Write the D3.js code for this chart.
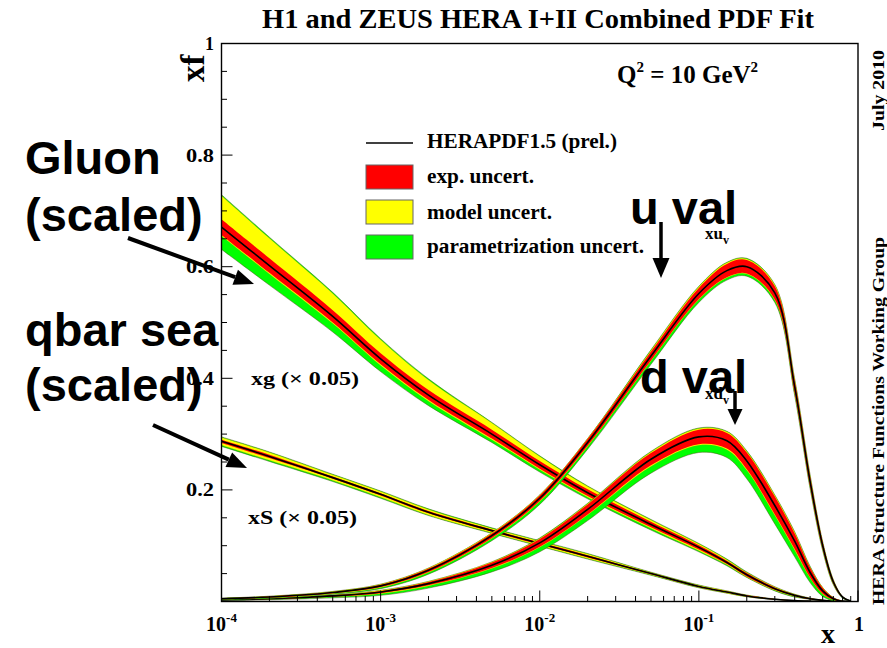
<!DOCTYPE html>
<html><head><meta charset="utf-8">
<script src="https://cdn.jsdelivr.net/npm/d3@7"></script>
<style>body{margin:0;background:#fff}</style></head>
<body><svg id="c" width="887" height="648"></svg>
<script>
// ---------- data (x, and xf values) ----------
const xGrid = [1e-4, 2e-4, 5e-4, 1e-3, 2e-3, 5e-3, 0.01, 0.02, 0.05, 0.1, 0.15, 0.2, 0.3, 0.4, 0.5, 0.6, 0.7, 0.8, 0.9];

// gluon xg (x 0.05)
const gluonC    = [0.671, 0.602, 0.511, 0.435, 0.37, 0.30, 0.245, 0.195, 0.138, 0.097, 0.07, 0.048, 0.023, 0.011, 0.005, 0.002, 0.0006, 0.0001, 0];
const gluonExp  = [0.014, 0.013, 0.011, 0.010, 0.009, 0.008, 0.007, 0.006, 0.005, 0.004, 0.003, 0.003, 0.002, 0.001, 0.001, 0.0005, 0, 0, 0];
const gluonModUp= [0.042, 0.036, 0.030, 0.024, 0.018, 0.012, 0.008, 0.005, 0.003, 0.002, 0.002, 0.001, 0.001, 0.001, 0, 0, 0, 0, 0];
const gluonModDn= [0.002, 0.002, 0.002, 0.002, 0.002, 0.002, 0.002, 0.002, 0.002, 0.002, 0.001, 0.001, 0.001, 0.001, 0, 0, 0, 0, 0];
const gluonParUp= [0.002, 0.002, 0.002, 0.002, 0.002, 0.001, 0.001, 0.001, 0.001, 0.001, 0.001, 0.001, 0.0005, 0, 0, 0, 0, 0, 0];
const gluonParDn= [0.024, 0.020, 0.015, 0.011, 0.008, 0.005, 0.004, 0.003, 0.003, 0.002, 0.002, 0.001, 0.001, 0.001, 0, 0, 0, 0, 0];

// sea xS (x 0.05)
const seaC    = [0.287, 0.26, 0.222, 0.192, 0.16, 0.127, 0.104, 0.081, 0.05, 0.027, 0.017, 0.01, 0.004, 0.0015, 0.0005, 0, 0, 0, 0];
const seaExp  = [0.003, 0.003, 0.002, 0.002, 0.002, 0.002, 0.002, 0.002, 0.001, 0.001, 0.001, 0.001, 0.0005, 0, 0, 0, 0, 0, 0];
const seaModUp= [0.004, 0.004, 0.003, 0.003, 0.003, 0.002, 0.002, 0.002, 0.001, 0.001, 0.001, 0.0005, 0, 0, 0, 0, 0, 0, 0];
const seaModDn= [0.004, 0.004, 0.003, 0.003, 0.003, 0.002, 0.002, 0.002, 0.001, 0.001, 0.001, 0.0005, 0, 0, 0, 0, 0, 0, 0];
const seaParUp= [0.001, 0.001, 0.001, 0.001, 0.001, 0.001, 0.001, 0.001, 0.0005, 0.0005, 0, 0, 0, 0, 0, 0, 0, 0, 0];
const seaParDn= [0.002, 0.002, 0.002, 0.002, 0.001, 0.001, 0.001, 0.001, 0.001, 0.0005, 0, 0, 0, 0, 0, 0, 0, 0, 0];

// u valence xu_v
const uvC    = [0.005, 0.008, 0.016, 0.028, 0.056, 0.118, 0.185, 0.285, 0.44, 0.552, 0.593, 0.6, 0.553, 0.385, 0.215, 0.10, 0.035, 0.008, 0.001];
const uvExp  = [0.0005, 0.001, 0.001, 0.002, 0.003, 0.004, 0.005, 0.006, 0.008, 0.010, 0.012, 0.012, 0.012, 0.011, 0.009, 0.006, 0.003, 0.001, 0];
const uvModUp= [0.0005, 0.0005, 0.001, 0.001, 0.001, 0.001, 0.001, 0.001, 0.002, 0.002, 0.002, 0.002, 0.002, 0.002, 0.002, 0.001, 0.001, 0, 0];
const uvModDn= [0.0005, 0.0005, 0.001, 0.001, 0.001, 0.001, 0.001, 0.001, 0.001, 0.001, 0.001, 0.001, 0.001, 0.001, 0.001, 0.001, 0.001, 0, 0];
const uvParUp= [0, 0, 0, 0, 0, 0, 0, 0, 0.001, 0.001, 0.001, 0.001, 0.001, 0.001, 0.001, 0, 0, 0, 0];
const uvParDn= [0.0005, 0.001, 0.001, 0.002, 0.003, 0.004, 0.005, 0.005, 0.006, 0.005, 0.004, 0.004, 0.004, 0.004, 0.003, 0.002, 0.001, 0.001, 0];

// d valence xd_v
const dvC    = [0.003, 0.005, 0.01, 0.017, 0.032, 0.065, 0.105, 0.165, 0.255, 0.295, 0.288, 0.252, 0.172, 0.108, 0.052, 0.019, 0.005, 0.0005, 0];
const dvExp  = [0.0005, 0.001, 0.001, 0.002, 0.003, 0.005, 0.007, 0.009, 0.011, 0.013, 0.014, 0.015, 0.016, 0.014, 0.009, 0.005, 0.002, 0.0005, 0];
const dvModUp= [0, 0, 0.0005, 0.001, 0.001, 0.001, 0.001, 0.001, 0.002, 0.002, 0.002, 0.002, 0.002, 0.002, 0.001, 0.001, 0, 0, 0];
const dvModDn= [0, 0, 0.0005, 0.001, 0.001, 0.001, 0.001, 0.001, 0.002, 0.002, 0.002, 0.002, 0.002, 0.002, 0.001, 0.001, 0, 0, 0];
const dvParUp= [0, 0, 0, 0, 0, 0, 0.001, 0.001, 0.001, 0.001, 0.001, 0.001, 0.001, 0.001, 0.001, 0, 0, 0, 0];
const dvParDn= [0.0005, 0.001, 0.002, 0.003, 0.004, 0.006, 0.008, 0.010, 0.012, 0.013, 0.014, 0.015, 0.015, 0.012, 0.008, 0.004, 0.002, 0.0005, 0];

const xMajorTicks = [1e-4, 1e-3, 1e-2, 1e-1, 1];
const xTickExps   = ["-4", "-3", "-2", "-1", null];
const yTickVals   = [0.2, 0.4, 0.6, 0.8, 1];
const yTickLabels = ["0.2", "0.4", "0.6", "0.8", "1"];
const legendLabels = ["HERAPDF1.5 (prel.)", "exp. uncert.", "model uncert.", "parametrization uncert."];
const bandColors = {exp: "#ff0000", model: "#ffff00", par: "#00ff00"};

// ---------- chart ----------
const svg = d3.select("#c");
svg.append("rect").attr("width", 887).attr("height", 648).attr("fill", "#fff");
const X = d3.scaleLog().domain([1e-4, 1]).range([221.5, 858]);
const Y = d3.scaleLinear().domain([0, 1]).range([601.5, 43.5]);
const SERIF = "'Liberation Serif','Times New Roman',serif";
const SANS = "'Liberation Sans',Arial,sans-serif";

svg.append("clipPath").attr("id", "plotclip").append("rect")
  .attr("x", X(1e-4)).attr("y", Y(1)).attr("width", X(1) - X(1e-4)).attr("height", Y(0) - Y(1));
const plot = svg.append("g").attr("clip-path", "url(#plotclip)");

function series(c, exp, mUp, mDn, pUp, pDn) {
  return xGrid.map((x, i) => {
    const rLo = c[i] - exp[i], rHi = c[i] + exp[i];
    const yLo = rLo - mDn[i], yHi = rHi + mUp[i];
    return {x, c: c[i], rLo, rHi, yLo, yHi, gLo: yLo - pDn[i], gHi: yHi + pUp[i]};
  });
}
const allSeries = [
  series(gluonC, gluonExp, gluonModUp, gluonModDn, gluonParUp, gluonParDn),
  series(seaC, seaExp, seaModUp, seaModDn, seaParUp, seaParDn),
  series(dvC, dvExp, dvModUp, dvModDn, dvParUp, dvParDn),
  series(uvC, uvExp, uvModUp, uvModDn, uvParUp, uvParDn)
];
const cv = d3.curveCatmullRom.alpha(0.5);
const area = (lo, hi) => d3.area().x(d => X(d.x)).y0(d => Y(Math.max(d[lo], -0.01))).y1(d => Y(d[hi])).curve(cv);
const line = d3.line().x(d => X(d.x)).y(d => Y(d.c)).curve(cv);

allSeries.forEach(s => {
  plot.append("path").datum(s).attr("d", area("gLo", "gHi")).attr("fill", bandColors.par)
    .attr("stroke", "#4a4a10").attr("stroke-width", 0.6).attr("stroke-opacity", 0.8);
  plot.append("path").datum(s).attr("d", area("yLo", "yHi")).attr("fill", bandColors.model)
    .attr("stroke", "#8a8a20").attr("stroke-width", 0.4).attr("stroke-opacity", 0.6);
  plot.append("path").datum(s).attr("d", area("rLo", "rHi")).attr("fill", bandColors.exp);
  plot.append("path").datum(s).attr("d", line).attr("fill", "none").attr("stroke", "#000").attr("stroke-width", 1.6);
});

// frame
svg.append("rect").attr("x", X(1e-4)).attr("y", Y(1)).attr("width", X(1) - X(1e-4)).attr("height", Y(0) - Y(1))
  .attr("fill", "none").attr("stroke", "#000").attr("stroke-width", 1.4);

// x ticks
const isMajor = t => Math.abs(Math.log10(t) - Math.round(Math.log10(t))) < 1e-9;
svg.append("g").selectAll("line").data(X.ticks()).join("line")
  .attr("x1", d => X(d)).attr("x2", d => X(d))
  .attr("y1", Y(0)).attr("y2", d => Y(0) - (isMajor(d) ? 11 : 5.5))
  .attr("stroke", "#000").attr("stroke-width", 1);
// y ticks
svg.append("g").selectAll("line").data(d3.range(0, 21).map(i => i * 0.05)).join("line")
  .attr("y1", d => Y(d)).attr("y2", d => Y(d))
  .attr("x1", X(1e-4)).attr("x2", (d, i) => X(1e-4) + (i % 4 === 0 ? 11 : 5.5))
  .attr("stroke", "#000").attr("stroke-width", 1);

function txt(g, s, x, y, size, opts = {}) {
  const t = g.append("text").attr("x", x).attr("y", y).text(s)
    .attr("font-family", opts.family || SERIF).attr("font-weight", "bold")
    .attr("font-size", size).attr("fill", opts.fill || "#000")
    .attr("text-anchor", opts.anchor || "start");
  if (opts.len) t.attr("textLength", opts.len).attr("lengthAdjust", "spacingAndGlyphs");
  if (opts.transform) t.attr("transform", opts.transform);
  return t;
}

// y tick labels
yTickVals.forEach((v, i) => {
  txt(svg, yTickLabels[i], 214, Y(v) + 6.5, 18, {anchor: "end", len: yTickLabels[i].length === 1 ? 9 : 28});
});
// x tick labels
xMajorTicks.forEach((v, i) => {
  const t = svg.append("text").attr("x", X(v) + (xTickExps[i] ? 0 : 1)).attr("y", 631)
    .attr("font-family", SERIF).attr("font-weight", "bold").attr("font-size", 20)
    .attr("text-anchor", "middle");
  if (xTickExps[i]) {
    t.append("tspan").text("10");
    t.append("tspan").text(xTickExps[i]).attr("font-size", 13).attr("dy", -9);
  } else {
    t.text("1");
  }
});
// axis titles
txt(svg, "x", 828, 643, 28, {anchor: "middle"});
txt(svg, "xf", 0, 0, 33, {transform: "translate(204,82) rotate(-90)"});

// title and side notes
txt(svg, "H1 and ZEUS HERA I+II Combined PDF Fit", 538, 28, 26.5, {anchor: "middle", len: 552});
const q = svg.append("text").attr("x", 617).attr("y", 83).attr("font-family", SERIF)
  .attr("font-weight", "bold").attr("font-size", 25);
q.append("tspan").text("Q");
q.append("tspan").text("2").attr("font-size", 15).attr("dy", -11);
q.append("tspan").text(" = 10 GeV").attr("dy", 11);
q.append("tspan").text("2").attr("font-size", 15).attr("dy", -11);
txt(svg, "July 2010", 0, 0, 17, {transform: "translate(884,131) rotate(-90)", len: 81});
txt(svg, "HERA Structure Functions Working Group", 0, 0, 17, {transform: "translate(884,605) rotate(-90)", len: 368});

// legend
const lg = svg.append("g");
lg.append("line").attr("x1", 366).attr("x2", 413).attr("y1", 143).attr("y2", 143).attr("stroke", "#000").attr("stroke-width", 1.6);
[bandColors.exp, bandColors.model, bandColors.par].forEach((c, i) => {
  lg.append("rect").attr("x", 366).attr("y", 165 + i * 35).attr("width", 47).attr("height", 24)
    .attr("fill", c).attr("stroke", "#666").attr("stroke-width", 1);
});
const legLens = [190, 107, 125, 217];
const legY = [148, 183, 219, 253];
legendLabels.forEach((s, i) => txt(lg, s, 427, legY[i], 20, {len: legLens[i]}));

// curve labels
txt(svg, "xg (\u00d7 0.05)", 251, 385, 18, {len: 108});
txt(svg, "xS (\u00d7 0.05)", 248, 524, 18, {len: 109});
const xu = svg.append("text").attr("x", 705).attr("y", 239).attr("font-family", SERIF).attr("font-weight", "bold").attr("font-size", 17);
xu.append("tspan").text("xu");
xu.append("tspan").text("v").attr("font-size", 12).attr("dy", 5);
const xd = svg.append("text").attr("x", 705).attr("y", 399).attr("font-family", SERIF).attr("font-weight", "bold").attr("font-size", 17);
xd.append("tspan").text("xd");
xd.append("tspan").text("v").attr("font-size", 12).attr("dy", 5);

// overlay annotations
const notes = [
  {s: "Gluon", x: 25, y: 174}, {s: "(scaled)", x: 25, y: 231},
  {s: "qbar sea", x: 25, y: 346}, {s: "(scaled)", x: 25, y: 401},
  {s: "u val", x: 630, y: 224}, {s: "d val", x: 640, y: 393}
];
notes.forEach(n => txt(svg, n.s, n.x, n.y, 47, {family: SANS}));

function arrow(x1, y1, x2, y2, w, hl, hw) {
  const a = Math.atan2(y2 - y1, x2 - x1);
  const bx = x2 - hl * Math.cos(a), by = y2 - hl * Math.sin(a);
  svg.append("line").attr("x1", x1).attr("y1", y1).attr("x2", bx).attr("y2", by)
    .attr("stroke", "#000").attr("stroke-width", w);
  const px = -Math.sin(a) * hw / 2, py = Math.cos(a) * hw / 2;
  svg.append("polygon").attr("points", [[x2, y2], [bx + px, by + py], [bx - px, by - py]].map(p => p.join(",")).join(" "))
    .attr("fill", "#000");
}
arrow(128, 238, 254, 284, 4, 20, 16);
arrow(153, 425, 247, 468, 4, 20, 16);
arrow(661, 222, 661, 278, 3.5, 20, 17);
arrow(735, 391, 735, 425, 3.5, 16, 15);
</script></body></html>
